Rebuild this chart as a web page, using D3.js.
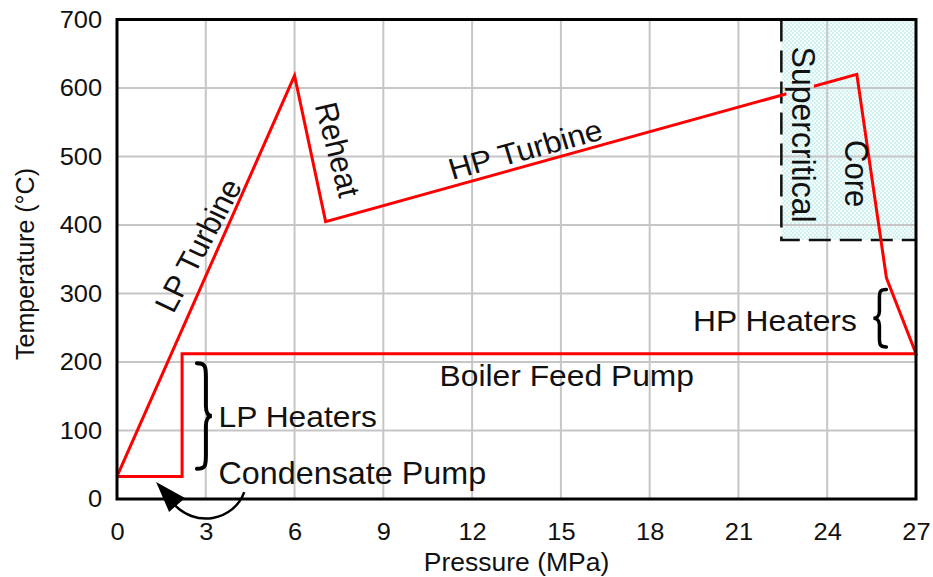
<!DOCTYPE html>
<html>
<head>
<meta charset="utf-8">
<script src="https://cdn.jsdelivr.net/npm/d3@7"></script>
<style>
  body { margin: 0; background: #fff; }
  text { font-family: "Liberation Sans", Arial, sans-serif; fill: #111; }
</style>
</head>
<body>
<div class="chart"></div>
<script>
// values
var pressureTicks = [0, 3, 6, 9, 12, 15, 18, 21, 24, 27];
var tempTicks = [0, 100, 200, 300, 400, 500, 600, 700];

// the cycle loop, in order (MPa, degC)
var cyclePressure = [0, 6, 7.05, 25, 26, 27, 2.2, 2.2, 0];
var cycleTemp     = [33, 618, 405, 620, 323, 212, 212, 33, 33];

// supercritical core box
var superPressure = [22.45, 27];
var superTemp = [378, 700];

var W = 933, H = 577;
var sx = 1.06; // the original is a little wider than tall

var x = d3.scaleLinear().domain([0, 27]).range([117, 916]);
var y = d3.scaleLinear().domain([0, 700]).range([499, 19.5]);

var svg = d3.select(".chart")
  .append("svg")
  .attr("width", W)
  .attr("height", H);

var defs = svg.append("defs");

// light cyan checker for the core region
var pat = defs.append("pattern")
  .attr("id", "hatch")
  .attr("width", 4)
  .attr("height", 4)
  .attr("patternUnits", "userSpaceOnUse");
pat.append("rect").attr("width", 4).attr("height", 4).attr("fill", "#f4fcfc");
pat.append("rect").attr("width", 2).attr("height", 2).attr("fill", "#d2f2f2");
pat.append("rect").attr("x", 2).attr("y", 2).attr("width", 2).attr("height", 2).attr("fill", "#d2f2f2");

// gap in the red line where the "Supercritical" label sits
var mask = defs.append("mask").attr("id", "gap");
mask.append("rect").attr("width", W).attr("height", H).attr("fill", "#fff");
mask.append("rect")
  .attr("x", x(22.62))
  .attr("y", y(640))
  .attr("width", x(23.55) - x(22.62))
  .attr("height", y(560) - y(640))
  .attr("fill", "#000");

// shaded region
svg.append("rect")
  .attr("x", x(superPressure[0]))
  .attr("y", y(superTemp[1]))
  .attr("width", x(superPressure[1]) - x(superPressure[0]))
  .attr("height", y(superTemp[0]) - y(superTemp[1]))
  .attr("fill", "url(#hatch)");

// grid
svg.append("g")
  .selectAll("line")
  .data(pressureTicks)
  .enter().append("line")
  .attr("x1", function (d) { return x(d); })
  .attr("x2", function (d) { return x(d); })
  .attr("y1", y(0))
  .attr("y2", y(700))
  .attr("stroke", "#c6c6c6")
  .attr("stroke-width", 2);

svg.append("g")
  .selectAll("line")
  .data(tempTicks)
  .enter().append("line")
  .attr("x1", x(0))
  .attr("x2", x(27))
  .attr("y1", function (d) { return y(d); })
  .attr("y2", function (d) { return y(d); })
  .attr("stroke", "#c6c6c6")
  .attr("stroke-width", 2);

// dashed boundary of the core box
svg.append("path")
  .attr("d", "M" + x(superPressure[0]) + "," + y(superTemp[1]) +
             "V" + y(superTemp[0]) + "H" + x(superPressure[1]))
  .attr("fill", "none")
  .attr("stroke", "#111")
  .attr("stroke-width", 2.5)
  .attr("stroke-dasharray", "22 9");

// cycle
var cycle = cyclePressure.map(function (p, i) { return [p, cycleTemp[i]]; });
svg.append("path")
  .datum(cycle)
  .attr("d", d3.line()
    .x(function (d) { return x(d[0]); })
    .y(function (d) { return y(d[1]); }))
  .attr("fill", "none")
  .attr("stroke", "#ff0000")
  .attr("stroke-width", 3)
  .attr("stroke-linejoin", "miter")
  .attr("mask", "url(#gap)");

// frame
svg.append("rect")
  .attr("x", x(0))
  .attr("y", y(700))
  .attr("width", x(27) - x(0))
  .attr("height", y(0) - y(700))
  .attr("fill", "none")
  .attr("stroke", "#000")
  .attr("stroke-width", 3);

// axes (labels only)
var xAxis = svg.append("g")
  .attr("transform", "translate(0," + y(0) + ")")
  .call(d3.axisBottom(x).tickValues(pressureTicks).tickSize(0).tickPadding(24));
var yAxis = svg.append("g")
  .attr("transform", "translate(" + x(0) + ",0)")
  .call(d3.axisLeft(y).tickValues(tempTicks).tickSize(0).tickPadding(14));
[xAxis, yAxis].forEach(function (a) {
  a.select(".domain").remove();
  a.selectAll("text")
    .style("font-family", "'Liberation Sans', Arial, sans-serif")
    .style("font-size", "24px")
    .attr("transform", "scale(" + sx + ",1)")
    .attr("fill", "#222");
});

svg.append("text")
  .attr("transform", "translate(" + (x(0) + x(27)) / 2 + ",571) scale(" + sx + ",1)")
  .attr("text-anchor", "middle")
  .style("font-size", "25px")
  .attr("fill", "#222")
  .text("Pressure (MPa)");

svg.append("text")
  .attr("transform", "translate(34,264) rotate(-90)")
  .attr("text-anchor", "middle")
  .style("font-size", "25px")
  .attr("fill", "#222")
  .text("Temperature (\u00B0C)");

// annotations
function label(txt, p, t, angle, anchor, size) {
  svg.append("text")
    .attr("transform", "translate(" + x(p) + "," + y(t) + ") scale(" + sx + ",1) rotate(" + angle + ")")
    .attr("text-anchor", anchor || "middle")
    .attr("dominant-baseline", "central")
    .style("font-size", (size || 30) + "px")
    .text(txt);
}
label("LP Turbine", 2.75, 370, -63);
label("Reheat", 7.45, 510, 76);
label("HP Turbine", 13.8, 510, -16);
label("Supercritical", 23.22, 532, 90, "middle", 32);
label("Core", 25.0, 475, 90, "middle", 31);
label("HP Heaters", 25.0, 260, 0, "end");
label("Boiler Feed Pump", 15.2, 180, 0);
label("LP Heaters", 3.43, 120, 0, "start");
label("Condensate Pump", 3.43, 37, 0, "start", 30.5);

// braces
var lpB = { p: 2.7, t0: 198, t1: 44 };
var bx = x(lpB.p), bt = y(lpB.t0), bb = y(lpB.t1), bm = (bt + bb) / 2;
svg.append("path")
  .attr("d", "M" + bx + "," + bt +
    " C" + (bx + 9) + "," + bt + " " + (bx + 9) + "," + (bt + 4) + " " + (bx + 9) + "," + (bt + 14) +
    " L" + (bx + 9) + "," + (bm - 10) +
    " C" + (bx + 9) + "," + (bm - 3) + " " + (bx + 12) + "," + bm + " " + (bx + 15) + "," + bm +
    " C" + (bx + 12) + "," + bm + " " + (bx + 9) + "," + (bm + 3) + " " + (bx + 9) + "," + (bm + 10) +
    " L" + (bx + 9) + "," + (bb - 14) +
    " C" + (bx + 9) + "," + (bb - 4) + " " + (bx + 9) + "," + bb + " " + bx + "," + bb)
  .attr("fill", "none")
  .attr("stroke", "#000")
  .attr("stroke-width", 4)
  .attr("stroke-linecap", "round");

var hpB = { p: 26.0, t0: 306, t1: 222 };
var hx = x(hpB.p), ht = y(hpB.t0), hb = y(hpB.t1), hm = (ht + hb) / 2;
svg.append("path")
  .attr("d", "M" + hx + "," + ht +
    " C" + (hx - 7) + "," + ht + " " + (hx - 7) + "," + (ht + 3) + " " + (hx - 7) + "," + (ht + 10) +
    " L" + (hx - 7) + "," + (hm - 7) +
    " C" + (hx - 7) + "," + (hm - 2) + " " + (hx - 10) + "," + hm + " " + (hx - 13) + "," + hm +
    " C" + (hx - 10) + "," + hm + " " + (hx - 7) + "," + (hm + 2) + " " + (hx - 7) + "," + (hm + 7) +
    " L" + (hx - 7) + "," + (hb - 10) +
    " C" + (hx - 7) + "," + (hb - 3) + " " + (hx - 7) + "," + hb + " " + hx + "," + hb)
  .attr("fill", "none")
  .attr("stroke", "#000")
  .attr("stroke-width", 3.5)
  .attr("stroke-linecap", "round");

// curved arrow from "Condensate Pump" to the pump leg
var a0 = [x(4.3), y(10)];
var a1 = [x(1.85), y(-4)];
svg.append("path")
  .attr("d", "M" + a0[0] + "," + a0[1] +
    " C" + (a0[0] - 10) + "," + (a0[1] + 28) + " " + (a1[0] + 23) + "," + (a1[1] + 28) + " " + a1[0] + "," + a1[1])
  .attr("fill", "none")
  .attr("stroke", "#000")
  .attr("stroke-width", 2.5);

var tip = [x(1.32), y(25)];
svg.append("path")
  .attr("d", "M" + tip[0] + "," + tip[1] +
    " L" + (tip[0] + 29) + "," + (tip[1] + 16) +
    " L" + (tip[0] + 13) + "," + (tip[1] + 30) + " Z")
  .attr("fill", "#000");
</script>
</body>
</html>
